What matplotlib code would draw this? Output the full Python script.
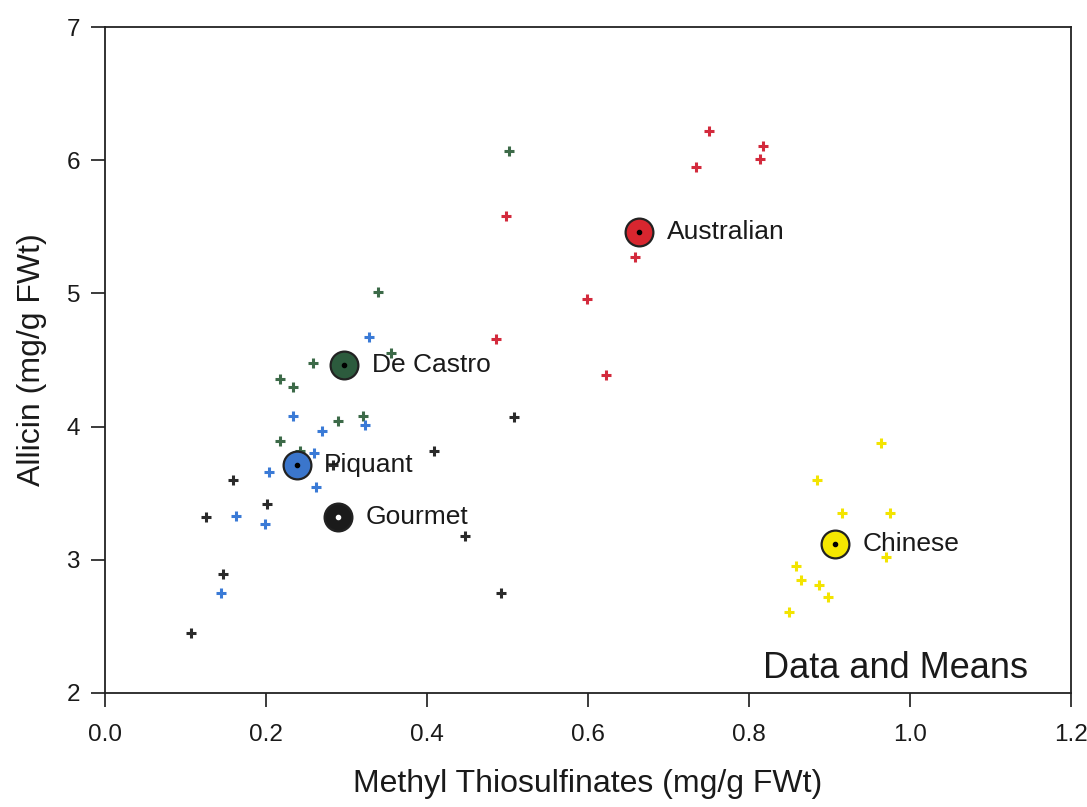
import matplotlib
matplotlib.use("Agg")
import matplotlib.pyplot as plt

plt.rcParams['font.family'] = ['Liberation Sans', 'DejaVu Sans']

# raw data points (methyl thiosulfinates, allicin)
aus_x = [0.750, 0.818, 0.814, 0.734, 0.498, 0.658, 0.599, 0.486, 0.623]
aus_y = [6.22, 6.11, 6.01, 5.95, 5.58, 5.27, 4.96, 4.66, 4.39]

dec_x = [0.339, 0.355, 0.258, 0.218, 0.233, 0.321, 0.289, 0.218, 0.242, 0.502]
dec_y = [5.01, 4.55, 4.48, 4.36, 4.30, 4.08, 4.04, 3.89, 3.82, 6.07]

piq_x = [0.328, 0.234, 0.269, 0.323, 0.260, 0.204, 0.262, 0.163, 0.199, 0.144]
piq_y = [4.67, 4.08, 3.97, 4.01, 3.80, 3.66, 3.55, 3.33, 3.27, 2.75]

gou_x = [0.508, 0.409, 0.159, 0.201, 0.125, 0.447, 0.147, 0.492, 0.107, 0.283]
gou_y = [4.07, 3.82, 3.60, 3.42, 3.32, 3.18, 2.89, 2.75, 2.45, 3.71]

chi_x = [0.964, 0.885, 0.916, 0.975, 0.970, 0.859, 0.865, 0.887, 0.898, 0.850]
chi_y = [3.88, 3.60, 3.35, 3.35, 3.02, 2.95, 2.85, 2.81, 2.72, 2.61]

# group means
names = ["Australian", "De Castro", "Piquant", "Gourmet", "Chinese"]
mean_x = [0.664, 0.297, 0.238, 0.289, 0.907]
mean_y = [5.46, 4.46, 3.71, 3.32, 3.12]
colors = ["#d8262f", "#2c5b3d", "#3b76cc", "#1b1b1b", "#f6e800"]
pt_colors = ["#d32a3c", "#3c6a48", "#3a7ad6", "#2a2a2a", "#f3e400"]

fig = plt.figure(figsize=(10.87, 8.07), dpi=100)
ax = fig.add_axes([0.0966, 0.1413, 0.8885, 0.8252])

groups = [(aus_x, aus_y), (dec_x, dec_y), (piq_x, piq_y), (gou_x, gou_y), (chi_x, chi_y)]
for (gx, gy), c in zip(groups, pt_colors):
    ax.plot(gx, gy, linestyle='none', marker='+', markersize=7,
            markeredgewidth=2.2, color=c, zorder=3)

for i in range(len(names)):
    ax.plot(mean_x[i], mean_y[i], marker='o', markersize=20,
            markerfacecolor=colors[i], markeredgecolor='#222222',
            markeredgewidth=1.6, linestyle='none', zorder=4)
    dot = 'white' if names[i] == "Gourmet" else 'black'
    ax.plot(mean_x[i], mean_y[i], marker='o', markersize=3,
            color=dot, linestyle='none', zorder=5)
    ax.annotate(names[i], (mean_x[i], mean_y[i]), xytext=(20, 0),
                textcoords='offset points', va='center', ha='left',
                fontsize=19, color='#1a1a1a', zorder=6)

ax.text(0.956, 0.01, "Data and Means", transform=ax.transAxes,
        ha='right', va='bottom', fontsize=26, color='#1a1a1a')

ax.set_xlim(0, 1.2)
ax.set_ylim(2, 7)
ax.set_xticks([0.0, 0.2, 0.4, 0.6, 0.8, 1.0, 1.2])
ax.set_xticklabels(["0.0", "0.2", "0.4", "0.6", "0.8", "1.0", "1.2"])
ax.set_yticks([2, 3, 4, 5, 6, 7])
ax.tick_params(axis='both', direction='out', length=10, width=1.2,
               labelsize=17.5, colors='#1a1a1a', pad=8)
ax.tick_params(axis='x', pad=12)
for s in ax.spines.values():
    s.set_linewidth(1.3)
    s.set_color('#222222')

ax.set_xlabel("Methyl Thiosulfinates (mg/g FWt)", fontsize=23, color='#1a1a1a', labelpad=17)
ax.set_ylabel("Allicin (mg/g FWt)", fontsize=23, color='#1a1a1a', labelpad=14)

fig.savefig("out.png", dpi=100)
